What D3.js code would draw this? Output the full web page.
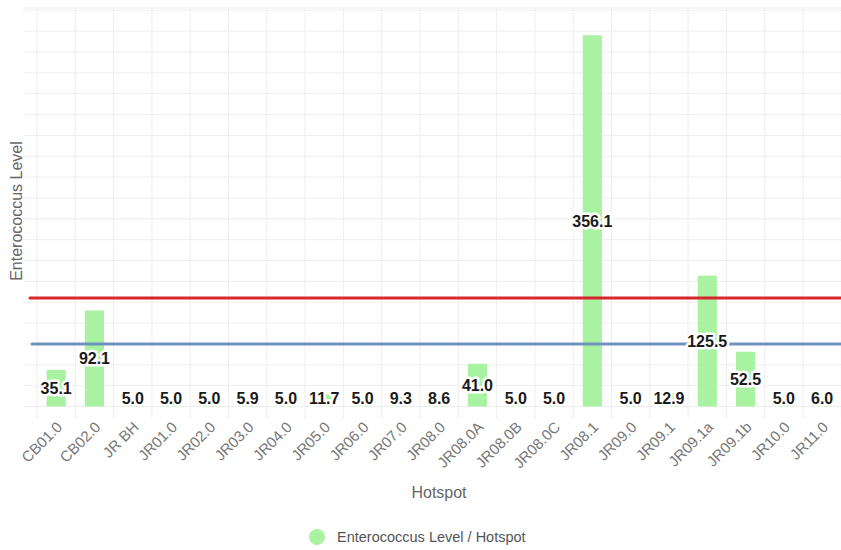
<!DOCTYPE html>
<html>
<head>
<meta charset="utf-8">
<script src="https://cdnjs.cloudflare.com/ajax/libs/d3/7.8.5/d3.min.js"></script>
<style>
  body { margin: 0; background: #fff; }
  svg { display: block; font-family: "Liberation Sans", Arial, sans-serif; }
</style>
</head>
<body>
<svg id="chart" width="841" height="550"></svg>
<script>
// data
let hotspots = ["CB01.0", "CB02.0", "JR BH", "JR01.0", "JR02.0", "JR03.0", "JR04.0", "JR05.0", "JR06.0", "JR07.0", "JR08.0",
                "JR08.0A", "JR08.0B", "JR08.0C", "JR08.1", "JR09.0", "JR09.1", "JR09.1a", "JR09.1b", "JR10.0", "JR11.0"];
let levels = [35.1, 92.1, 5.0, 5.0, 5.0, 5.9, 5.0, 11.7, 5.0, 9.3, 8.6, 41.0, 5.0, 5.0, 356.1, 5.0, 12.9, 125.5, 52.5, 5.0, 6.0];
let thresholds = [104, 60];
let thresholdColors = ["#d8262e", "#7092bf"];
let yMax = 380;

let svg = d3.select("#chart");

let x = d3.scaleBand()
          .domain(hotspots)
          .range([37, 841.3])
          .paddingInner(0.5)
          .paddingOuter(0.25);

let y = d3.scaleLinear()
          .domain([0, yMax])
          .range([406.5, 10.3]);

// grid
let grid = svg.append("g").attr("stroke", "#eeeeee").attr("stroke-width", 1);

grid.selectAll("line.h")
    .data(y.ticks(19))
    .enter()
    .append("line")
    .attr("class", "h")
    .attr("x1", 23)
    .attr("x2", 841)
    .attr("y1", (d) => y(d))
    .attr("y2", (d) => y(d));

grid.append("line")
    .attr("x1", 23).attr("x2", 841)
    .attr("y1", 8).attr("y2", 8);

grid.selectAll("line.v")
    .data(d3.range(hotspots.length + 1))
    .enter()
    .append("line")
    .attr("class", "v")
    .attr("x1", (i) => x.range()[0] + i * x.step())
    .attr("x2", (i) => x.range()[0] + i * x.step())
    .attr("y1", 8)
    .attr("y2", 418);

// bars
svg.selectAll("rect.bar")
   .data(levels)
   .enter()
   .append("rect")
   .attr("class", "bar")
   .attr("x", (d, i) => x(hotspots[i]))
   .attr("width", x.bandwidth())
   .attr("y", (d) => y(d))
   .attr("height", (d) => y(0) - y(d))
   .attr("fill", "#a9f2a1");

// threshold lines
svg.selectAll("line.thr")
   .data(thresholds)
   .enter()
   .append("line")
   .attr("class", "thr")
   .attr("x1", (d, i) => i === 0 ? 30 : 32)
   .attr("x2", 845)
   .attr("y1", (d) => y(d))
   .attr("y2", (d) => y(d))
   .attr("stroke", (d, i) => thresholdColors[i])
   .attr("stroke-width", 3)
   .attr("stroke-linecap", "round");

// value labels
svg.selectAll("text.val")
   .data(levels)
   .enter()
   .append("text")
   .attr("class", "val")
   .attr("x", (d, i) => x(hotspots[i]) + x.bandwidth() / 2)
   .attr("y", (d) => Math.min(y(d / 2), y(0) - 8))
   .attr("dy", "0.36em")
   .attr("text-anchor", "middle")
   .attr("font-size", 16)
   .attr("font-weight", "bold")
   .attr("fill", "#1a1a1a")
   .attr("stroke", "#fff")
   .attr("stroke-width", 5)
   .attr("stroke-linejoin", "round")
   .attr("paint-order", "stroke")
   .text((d) => d.toFixed(1));

// x tick labels
svg.selectAll("text.tick")
   .data(hotspots)
   .enter()
   .append("text")
   .attr("class", "tick")
   .attr("transform", (d) => "translate(" + (x(d) + x.bandwidth() / 2 + 7) + ",428) rotate(-45)")
   .attr("text-anchor", "end")
   .attr("font-size", 15)
   .attr("fill", "#777")
   .text((d) => d);

// axis titles
svg.append("text")
   .attr("transform", "translate(22,211) rotate(-90)")
   .attr("text-anchor", "middle")
   .attr("font-size", 16)
   .attr("fill", "#666")
   .text("Enterococcus Level");

svg.append("text")
   .attr("x", 439)
   .attr("y", 498)
   .attr("text-anchor", "middle")
   .attr("font-size", 16)
   .attr("fill", "#666")
   .text("Hotspot");

// legend
svg.append("circle")
   .attr("cx", 317)
   .attr("cy", 537)
   .attr("r", 8)
   .attr("fill", "#a9f2a1");

svg.append("text")
   .attr("x", 337)
   .attr("y", 542)
   .attr("font-size", 14.5)
   .attr("fill", "#555")
   .text("Enterococcus Level / Hotspot");
</script>
</body>
</html>
